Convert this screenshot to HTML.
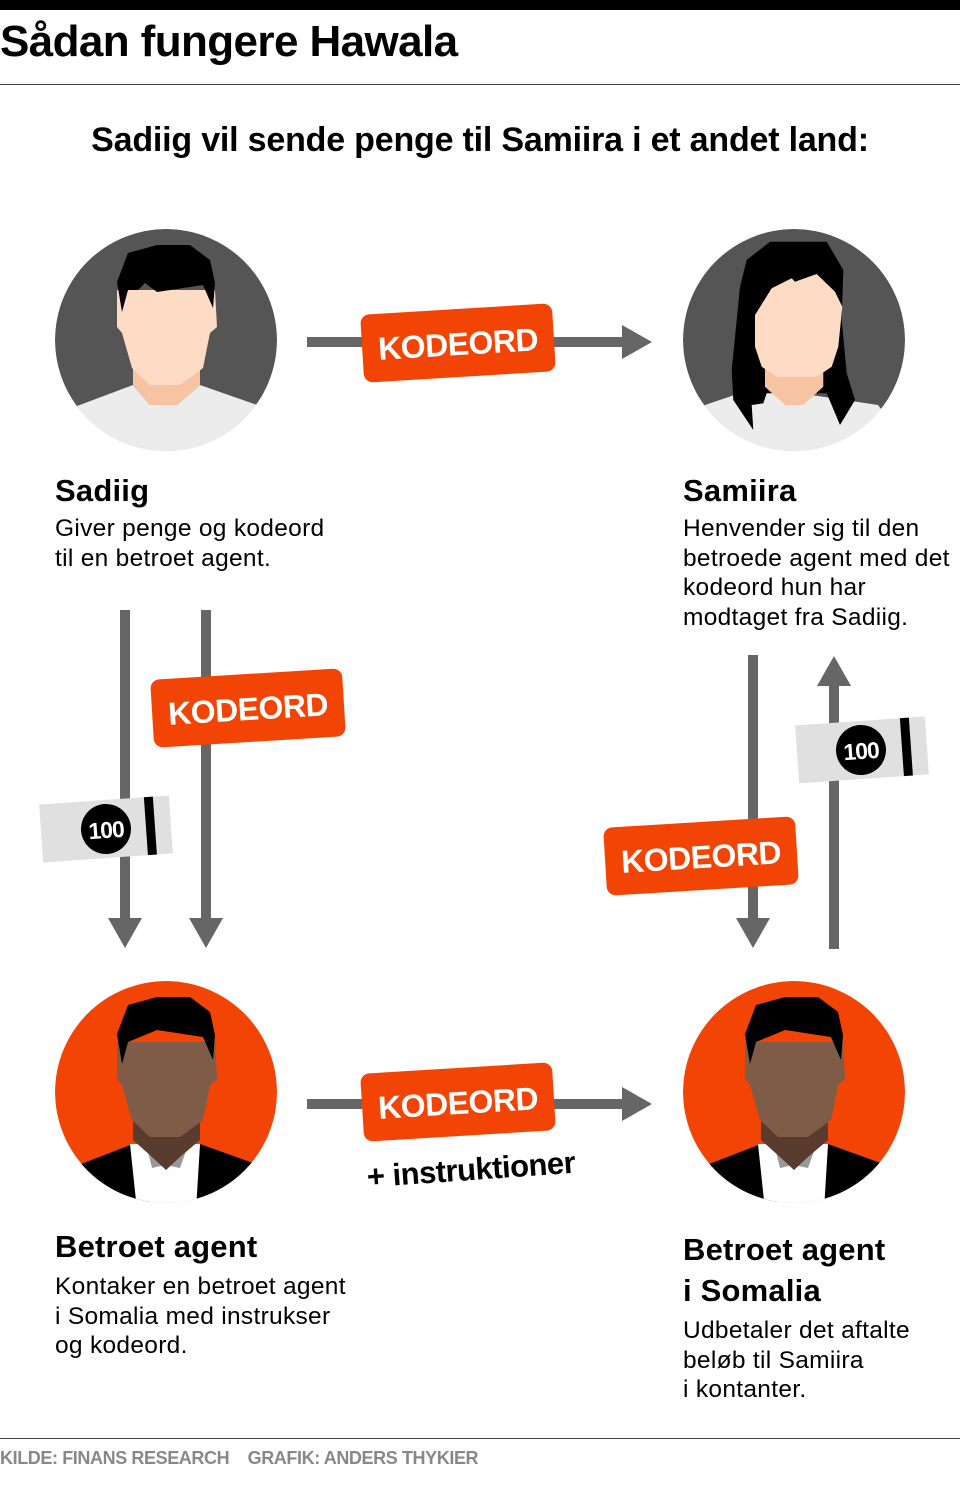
<!DOCTYPE html>
<html><head><meta charset="utf-8"><style>
body{margin:0;width:960px;height:1487px;background:#fff;position:relative;overflow:hidden;font-family:"Liberation Sans",sans-serif;color:#000}
.t{position:absolute;white-space:nowrap}
.h{font-weight:bold;font-size:31px;letter-spacing:0.2px}
.p{font-size:24.5px;line-height:29.5px;letter-spacing:0.3px}
</style></head><body>
<div style="position:absolute;left:0;top:0;width:960px;height:10px;background:#000"></div>
<div class="t" style="left:0;top:17px;font-size:44px;font-weight:bold;letter-spacing:-0.6px">Sådan fungere Hawala</div>
<div style="position:absolute;left:0;top:84px;width:960px;height:1px;background:#444"></div>
<div class="t" style="left:0;width:960px;text-align:center;top:121px;font-size:34px;font-weight:bold;letter-spacing:-0.2px">Sadiig vil sende penge til Samiira i et andet land:</div>

<svg width="960" height="1487" style="position:absolute;left:0;top:0">
<defs>
<clipPath id="c1"><circle cx="166" cy="340" r="111"/></clipPath>
<clipPath id="c2"><circle cx="794" cy="340" r="111"/></clipPath>
<clipPath id="c3"><circle cx="166" cy="1092" r="111"/></clipPath>
<g id="agent">
<circle cx="166" cy="1092" r="111" fill="#f24405"/>
<polygon points="40,1180 133,1144 150,1144 150,1220 40,1220" fill="#000"/>
<polygon points="200,1144 300,1180 300,1220 195,1220" fill="#000"/>
<polygon points="130,1144 200,1144 196,1210 137,1210" fill="#fff"/>
<polygon points="145,1140 190,1140 180,1168 165,1165 152,1168" fill="#999"/>
<polygon points="133,1115 200,1115 200,1140 180,1157 166,1170 152,1157 133,1140" fill="#5a3c2e"/>
<polygon points="117,1042 215,1042 217,1079 210,1085 203,1120 180,1137 150,1137 132,1120 122,1085 117,1079" fill="#7e5c48"/>
<polygon points="128,1005 157,997 190,997 210,1012 215,1035 213,1060 203,1037 157,1030 128,1042 122,1064 117,1034" fill="#000"/>
</g>
</defs>
<!-- Sadiig -->
<g clip-path="url(#c1)">
<circle cx="166" cy="340" r="111" fill="#555"/>
<polygon points="40,420 133,385 150,405 177,405 200,385 300,420 300,460 40,460" fill="#ececec"/>
<polygon points="133,360 200,360 200,385 177,405 150,405 133,385" fill="#f7c4a3"/>
<polygon points="117,290 215,290 217,327 210,333 203,368 180,385 150,385 132,368 122,333 117,327" fill="#fddbc4"/>
<polygon points="128,253 157,245 190,245 210,260 215,283 213,308 203,285 157,292 145,283 138,290 128,290 122,312 117,282" fill="#000"/>
</g>
<!-- Samiira -->
<g clip-path="url(#c2)">
<circle cx="794" cy="340" r="111" fill="#555"/>
<polygon points="705,405 758,387 878,405 920,460 680,460" fill="#ececec"/>
<polygon points="746.7,260 770,241.7 826.7,241.7 843.3,270 841.7,320 846.7,373.3 855,400 840,425 826.7,393.3 766.7,393.3 763.3,403.3 751.7,405 753.3,430 733.3,400 731.7,370 736.7,320 740,286.7" fill="#000"/>
<polygon points="765,360 823.3,360 823.3,386.7 803.3,405 785,405 765,386.7" fill="#f7c4a3"/>
<polygon points="755,315 771.7,288.3 791.7,278.3 795,281.7 816.7,274 835,291.7 842.3,306.7 838.3,346.7 831.7,366.7 816.7,376.7 776.7,376.7 761.7,366.7 755,346.7" fill="#fddbc4"/>
</g>
<!-- agents -->
<g clip-path="url(#c3)"><use href="#agent"/></g>
<g transform="translate(628,0)"><g clip-path="url(#c3)"><use href="#agent"/></g></g>

<!-- arrows -->
<g fill="#666">
<rect x="307" y="337" width="320" height="10"/><polygon points="622,325 652,342 622,359"/>
<rect x="307" y="1099" width="320" height="10"/><polygon points="622,1087 652,1104 622,1121"/>
<rect x="120" y="610" width="10" height="312"/><polygon points="108,918 142,918 125,948"/>
<rect x="201" y="610" width="10" height="312"/><polygon points="189,918 223,918 206,948"/>
<rect x="748" y="655" width="10" height="267"/><polygon points="736,918 770,918 753,948"/>
<rect x="829" y="683" width="10" height="266"/><polygon points="817,686 851,686 834,656"/>
</g>
<!-- bills -->
<g transform="rotate(-4 106 829)">
<rect x="41" y="800" width="130" height="58" fill="#e0e0e0"/>
<rect x="146" y="800" width="9" height="58" fill="#000"/>
<circle cx="106" cy="829" r="25" fill="#000"/>
<text x="106" y="838" font-family="Liberation Sans" font-weight="bold" font-size="23" fill="#fff" text-anchor="middle" letter-spacing="-1">100</text>
</g>
<g transform="rotate(-4 861 750)">
<rect x="797" y="721" width="130" height="58" fill="#e0e0e0"/>
<rect x="902" y="721" width="9" height="58" fill="#000"/>
<circle cx="861" cy="750" r="25" fill="#000"/>
<text x="861" y="759" font-family="Liberation Sans" font-weight="bold" font-size="23" fill="#fff" text-anchor="middle" letter-spacing="-1">100</text>
</g>
<!-- tags -->
<g font-family="Liberation Sans" font-weight="bold" font-size="32" fill="#fff" text-anchor="middle" letter-spacing="-0.5">
<g transform="rotate(-3.5 458 343)"><rect x="362" y="309" width="192" height="68" rx="9" fill="#f24405"/><text x="458" y="355">KODEORD</text></g>
<g transform="rotate(-3.5 248 708)"><rect x="152" y="674" width="192" height="68" rx="9" fill="#f24405"/><text x="248" y="720">KODEORD</text></g>
<g transform="rotate(-3.5 701 856)"><rect x="605" y="822" width="192" height="68" rx="9" fill="#f24405"/><text x="701" y="868">KODEORD</text></g>
<g transform="rotate(-3.5 458 1102)"><rect x="362" y="1068" width="192" height="68" rx="9" fill="#f24405"/><text x="458" y="1114">KODEORD</text></g>
<text x="471" y="1180" fill="#000" font-size="31" transform="rotate(-4 471 1170)">+ instruktioner</text>
</g>
</svg>

<div class="t h" style="left:55px;top:473px">Sadiig</div>
<div class="t p" style="left:55px;top:514px">Giver penge og kodeord<br>til en betroet agent.</div>
<div class="t h" style="left:683px;top:473px">Samiira</div>
<div class="t p" style="left:683px;top:514px">Henvender sig til den<br>betroede agent med det<br>kodeord hun har<br>modtaget fra Sadiig.</div>
<div class="t h" style="left:55px;top:1229px">Betroet agent</div>
<div class="t p" style="left:55px;top:1272px">Kontaker en betroet agent<br>i Somalia med instrukser<br>og kodeord.</div>
<div class="t h" style="left:683px;top:1229px;line-height:41px">Betroet agent<br>i Somalia</div>
<div class="t p" style="left:683px;top:1316px">Udbetaler det aftalte<br>beløb til Samiira<br>i kontanter.</div>
<div style="position:absolute;left:0;top:1438px;width:960px;height:1px;background:#444"></div>
<div class="t" style="left:0;top:1448px;font-size:18px;font-weight:bold;color:#888;letter-spacing:-0.4px">KILDE: FINANS RESEARCH&nbsp;&nbsp;&nbsp;&nbsp;GRAFIK: ANDERS THYKIER</div>
</body></html>
